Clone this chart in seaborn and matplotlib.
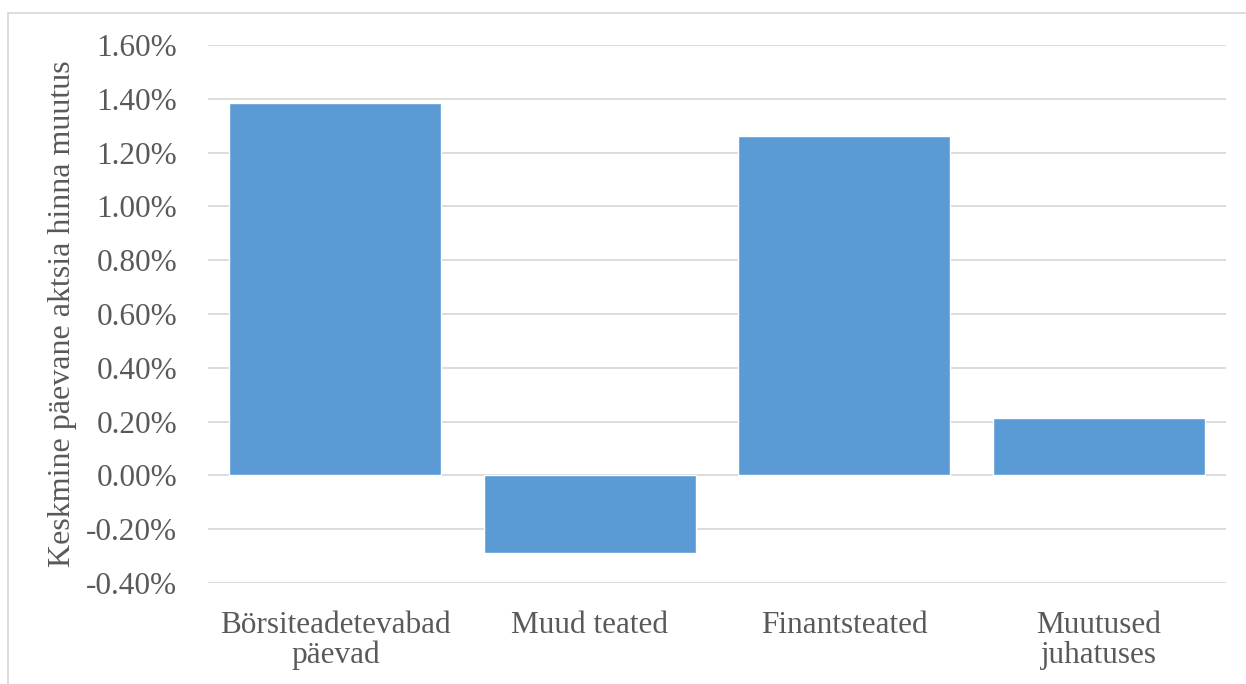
import matplotlib
matplotlib.use("Agg")
import matplotlib.pyplot as plt
import seaborn as sns
import pandas as pd
from matplotlib.patches import Rectangle
from matplotlib.ticker import FuncFormatter

# andmed (loetud pildilt)
categories = ["Börsiteadetevabad\npäevad", "Muud teated", "Finantsteated", "Muutused\njuhatuses"]
values = [1.386, -0.287, 1.262, 0.215]
yticks = [-0.4, -0.2, 0.0, 0.2, 0.4, 0.6, 0.8, 1.0, 1.2, 1.4, 1.6]

df = pd.DataFrame({"kategooria": categories, "muutus": values})

sns.set_style("white")
plt.rcParams["font.family"] = ["Liberation Serif", "DejaVu Serif"]
txt = "#595959"

fig = plt.figure(figsize=(12.46, 6.84), dpi=100)
ax = fig.add_axes([208 / 1246, 1 - 583 / 684, (1226 - 208) / 1246, (583 - 45) / 684])

sns.barplot(data=df, x="kategooria", y="muutus", color="#5B9BD5", saturation=1,
            width=0.833, ax=ax, zorder=3)

ax.set_xlim(-0.5, 3.5)
ax.set_ylim(-0.4, 1.6)
ax.set_yticks(yticks)
ax.yaxis.set_major_formatter(FuncFormatter(lambda v, p: f"{v:.2f}%"))
ax.grid(axis="y", color="#D9D9D9", linewidth=1.3, zorder=0)
for s in ax.spines.values():
    s.set_visible(False)
ax.tick_params(axis="both", length=0, labelsize=22.5, labelcolor=txt)
ax.tick_params(axis="y", pad=22)
ax.tick_params(axis="x", pad=20)
for lbl in ax.get_xticklabels():
    lbl.set_linespacing(1.05)
ax.set_xlabel("")
ax.set_ylabel("Keskmine päevane aktsia hinna muutus", fontsize=23, color=txt, labelpad=7)

# raam ümber joonise
fig.patches.append(Rectangle((8 / 1246, -0.1), 1.2, 1.1 - 13 / 684,
                             transform=fig.transFigure, fill=False,
                             edgecolor="#D9D9D9", linewidth=1.3))

fig.savefig("out.png", dpi=100)
